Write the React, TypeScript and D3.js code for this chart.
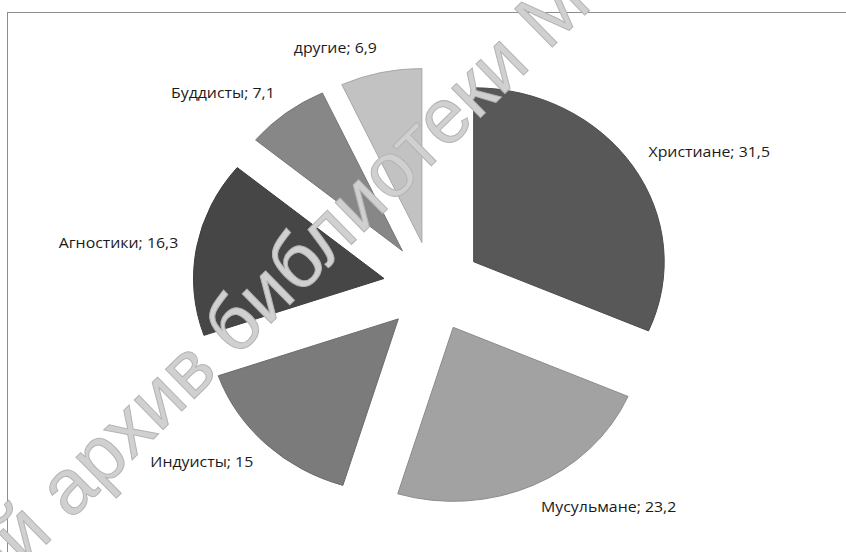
import React from 'react';
import * as d3 from 'd3';

const categories = ['Христиане', 'Мусульмане', 'Индуисты', 'Агностики', 'Буддисты', 'другие'];
const values = [31.5, 23.2, 15, 16.3, 7.1, 6.9];
const shades = ['#585858', '#a2a2a2', '#7b7b7b', '#464646', '#878787', '#c2c2c2'];

const width = 846;
const height = 552;
const cx = 432.5;
const cy = 286.5;
const radius = 174;
const explode = 45;
const stretchX = 1.095; // the scan is a bit wider than tall
const labelRadius = 236;
const labelBox = 16;

function App() {
  const pie = d3.pie<number>().sort(null).value(d => d);
  const arcs = pie(values);
  const arc = d3.arc<d3.PieArcDatum<number>>().innerRadius(0).outerRadius(radius);
  const fmt = (v: number) => String(v).replace('.', ',');

  return (
    <svg width={width} height={height} style={{ position: 'absolute', left: 0, top: 0, background: '#fff' }}>
      <rect x={7.5} y={12.5} width={900} height={600} fill="#fff" stroke="#8c8c8c" strokeWidth={1} />

      <g transform={`translate(${cx},${cy}) scale(${stretchX},1)`}>
        {arcs.map((a, i) => {
          const mid = (a.startAngle + a.endAngle) / 2;
          const dx = explode * Math.sin(mid);
          const dy = -explode * Math.cos(mid);
          return (
            <path
              key={categories[i]}
              d={arc(a) || ''}
              transform={`translate(${dx},${dy})`}
              fill={shades[i]}
              stroke={d3.color(shades[i])!.darker(0.4).toString()}
              strokeWidth={1}
              vectorEffect="non-scaling-stroke"
            />
          );
        })}
      </g>

      {/* library watermark over the scan */}
      <text
        transform="translate(594,6) rotate(-44.5)"
        textAnchor="end"
        fontFamily="Liberation Sans, Arial, sans-serif"
        fontSize={78}
        fill="#d0d0d0"
        stroke="#b4b4b4"
        strokeWidth={1}
      >
        Электронный архив библиотеки М
      </text>

      {arcs.map((a, i) => {
        const mid = (a.startAngle + a.endAngle) / 2;
        const s = Math.sin(mid);
        const c = Math.cos(mid);
        const px = cx + stretchX * labelRadius * s;
        const py = cy - labelRadius * c;
        const top = py - labelBox * (1 + c) / 2;
        return (
          <text
            key={'l' + i}
            transform={`translate(${px},${top + 12.5}) scale(${stretchX},1)`}
            textAnchor={s >= 0 ? 'start' : 'end'}
            fontFamily="Open Sans, sans-serif"
            fontSize={14.5}
            fill="#1a1a1a"
          >
            {categories[i]}; {fmt(values[i])}
          </text>
        );
      })}
    </svg>
  );
}

export default App;
